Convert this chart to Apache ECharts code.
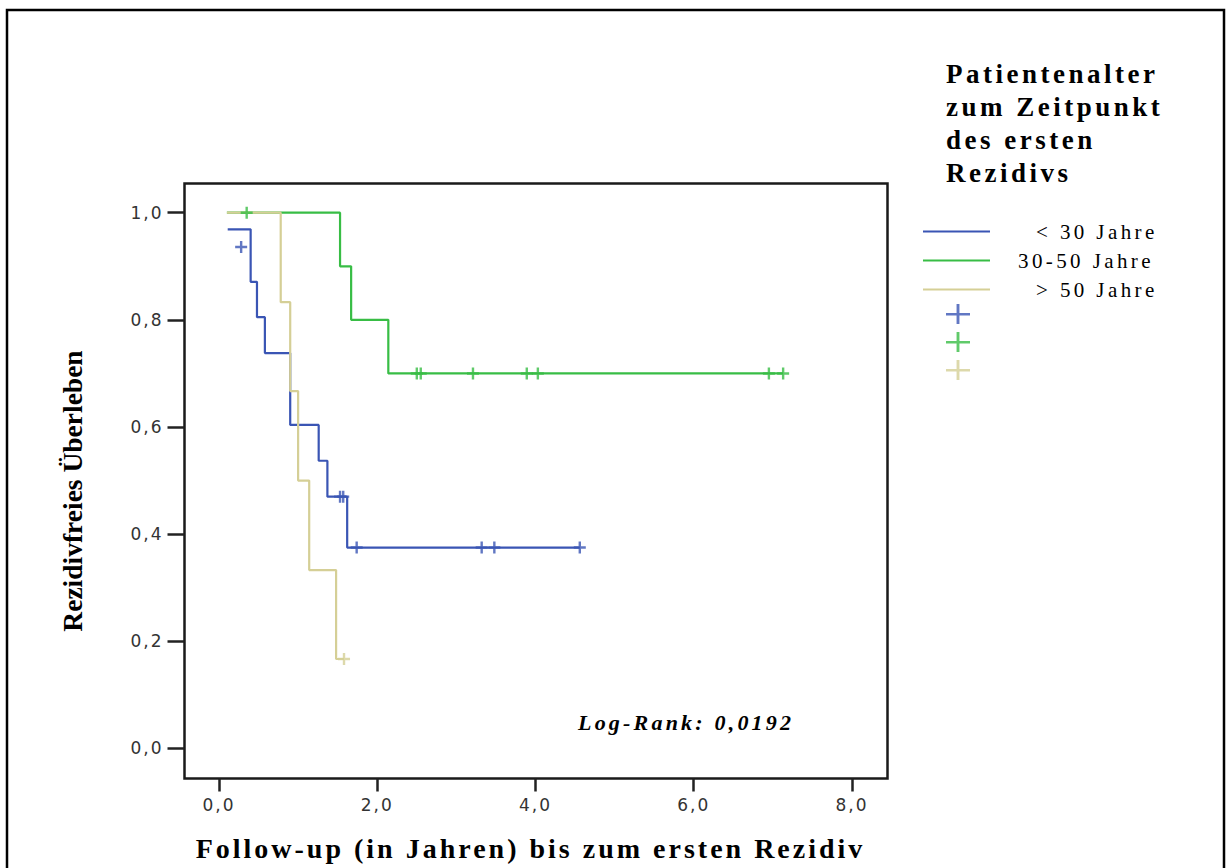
<!DOCTYPE html>
<html>
<head>
<meta charset="utf-8">
<script src="https://cdn.jsdelivr.net/npm/echarts@6/dist/echarts.min.js"></script>
<style>
  html, body { margin: 0; padding: 0; background: #fff; }
  #chart { width: 1228px; height: 868px; }
  /* spaced-out captions: SVG text picks up CSS letter-spacing */
  #chart text[style*="28px"] { letter-spacing: 3px; }
  #chart text[style*="27px"] { letter-spacing: 3.5px; }
  #chart text[style*="22px"] { letter-spacing: 3.2px; }
  #chart text[style*="21px"] { letter-spacing: 3.4px; }
  #chart text[style*="17px"] { letter-spacing: 2px; }
</style>
</head>
<body>
<div id="chart"></div>
<script>
// Age groups
const groupNames = ['< 30 Jahre', '30-50 Jahre', '> 50 Jahre'];
const groupColors = ['#3a55b4', '#38bd45', '#d5cf96'];

// Kaplan-Meier steps: time (years) and survival after each step
const under30Times = [0.11, 0.40, 0.48, 0.58, 0.90, 1.26, 1.37, 1.62, 4.56];
const under30Surv  = [0.969, 0.871, 0.805, 0.738, 0.604, 0.537, 0.470, 0.375, 0.375];
const age30to50Times = [0.10, 1.53, 1.67, 2.14, 7.13];
const age30to50Surv  = [1.0, 0.9, 0.8, 0.7, 0.7];
const over50Times = [0.10, 0.78, 0.90, 1.00, 1.14, 1.48, 1.58];
const over50Surv  = [1.0, 0.833, 0.667, 0.5, 0.333, 0.167, 0.167];

// Censored observations
const under30CensorTimes = [0.28, 1.53, 1.57, 1.74, 3.32, 3.48, 4.56];
const under30CensorSurv  = [0.936, 0.470, 0.470, 0.375, 0.375, 0.375, 0.375];
const age30to50CensorTimes = [0.35, 2.50, 2.55, 3.21, 3.89, 4.03, 6.95, 7.13];
const age30to50CensorSurv  = [1.0, 0.7, 0.7, 0.7, 0.7, 0.7, 0.7, 0.7];
const over50CensorTimes = [1.58];
const over50CensorSurv  = [0.167];

// Axes
const xTicks = [0, 2, 4, 6, 8];
const yTicks = [0, 0.2, 0.4, 0.6, 0.8, 1.0];

// Texts
const xTitle = 'Follow-up (in Jahren) bis zum ersten Rezidiv';
const yTitle = 'Rezidivfreies Überleben';
const legendTitle = 'Patientenalter\nzum Zeitpunkt\ndes ersten\nRezidivs';
const logRankText = 'Log-Rank: 0,0192';

const SERIF = '"Liberation Serif", "Times New Roman", serif';
const SANS = '"DejaVu Sans", sans-serif';
const PLUS = 'path://M0,8H20V12H0Z M8,0H12V20H8Z';
const PLUS_LEGEND = 'path://M0,9H20V11.4H0Z M8.8,0H11.2V20H8.8Z';

const steps = [
  [under30Times, under30Surv],
  [age30to50Times, age30to50Surv],
  [over50Times, over50Surv]
];
const censored = [
  [under30CensorTimes, under30CensorSurv],
  [age30to50CensorTimes, age30to50CensorSurv],
  [over50CensorTimes, over50CensorSurv]
];
const censorNames = groupNames.map(n => 'Zensiert ' + n);

const zip = (a, b) => a.map((v, i) => [v, b[i]]);
const comma = v => v.toFixed(1).replace('.', ',');

const series = [];
steps.forEach(([t, s], i) => {
  series.push({
    name: groupNames[i],
    type: 'line',
    step: 'end',
    data: zip(t, s),
    symbol: 'none',
    color: groupColors[i],
    lineStyle: { color: groupColors[i], width: 2.2 },
    z: 2
  });
});
censored.forEach(([t, s], i) => {
  series.push({
    name: censorNames[i],
    type: 'scatter',
    data: zip(t, s),
    symbol: PLUS,
    symbolSize: 12,
    color: groupColors[i],
    itemStyle: { color: groupColors[i] },
    z: 3
  });
});

const chart = echarts.init(document.getElementById('chart'), null, { renderer: 'svg' });
chart.setOption({
  animation: false,
  backgroundColor: '#fff',
  grid: {
    left: 184.5, top: 183.5, width: 703, height: 595,
    show: true, borderColor: '#1a1a1a', borderWidth: 2.5, backgroundColor: 'transparent'
  },
  xAxis: {
    type: 'value',
    min: -0.436, max: 8.449,
    splitLine: { show: false },
    axisLine: { show: false, onZero: false },
    axisTick: { show: true, length: 13, customValues: xTicks, lineStyle: { color: '#222', width: 2.5 } },
    axisLabel: {
      customValues: xTicks, formatter: comma, margin: 18,
      fontFamily: SANS, fontSize: 17, color: '#333'
    },
    name: xTitle,
    nameLocation: 'middle',
    nameGap: 56,
    nameTextStyle: {
      fontFamily: SERIF, fontSize: 28, fontWeight: 'bold', color: '#000',
      padding: [0, 11, 0, 0]
    }
  },
  yAxis: {
    type: 'value',
    min: -0.056, max: 1.0545,
    splitLine: { show: false },
    axisLine: { show: false, onZero: false },
    axisTick: { show: true, length: 17, customValues: yTicks, lineStyle: { color: '#222', width: 2.5 } },
    axisLabel: {
      customValues: yTicks, formatter: comma, margin: 21,
      fontFamily: SANS, fontSize: 17, color: '#333'
    },
    name: yTitle,
    nameLocation: 'middle',
    nameRotate: 90,
    nameGap: 98,
    nameTextStyle: {
      fontFamily: SERIF, fontSize: 27.5, fontWeight: 'bold', color: '#000',
      padding: [0, 20, 0, 0]
    }
  },
  title: [
    {
      text: legendTitle,
      left: 946, top: 57,
      textStyle: { fontFamily: SERIF, fontSize: 27, fontWeight: 'bold', color: '#000', lineHeight: 33 },
      padding: 0
    },
    {
      text: logRankText,
      left: 578, top: 710,
      textStyle: { fontFamily: SERIF, fontSize: 22, fontWeight: 'bold', fontStyle: 'italic', color: '#000', lineHeight: 24 },
      padding: 0
    }
  ],
  legend: [
    {
      data: [
        { name: groupNames[0], textStyle: { padding: [0, 0, 0, 41] } },
        { name: groupNames[1], textStyle: { padding: [0, 0, 0, 23] } },
        { name: groupNames[2], textStyle: { padding: [0, 0, 0, 41] } }
      ],
      orient: 'vertical',
      left: 923, top: 221,
      padding: 0,
      icon: 'rect',
      itemWidth: 67, itemHeight: 2,
      itemGap: 8,
      selectedMode: false,
      textStyle: { fontFamily: SERIF, fontSize: 21, color: '#000', lineHeight: 20 }
    },
    {
      data: censorNames,
      orient: 'vertical',
      left: 946, top: 304,
      padding: 0,
      icon: PLUS_LEGEND,
      symbolKeepAspect: false,
      itemWidth: 24, itemHeight: 20,
      itemGap: 8,
      selectedMode: false,
      formatter: () => '',
      textStyle: { fontSize: 10, lineHeight: 20 }
    }
  ],
  graphic: [
    {
      type: 'rect', silent: true,
      shape: { x: 7, y: 10, width: 1217, height: 900 },
      style: { fill: 'none', stroke: '#000', lineWidth: 2.5 }
    }
  ],
  series: series
});
</script>
</body>
</html>
